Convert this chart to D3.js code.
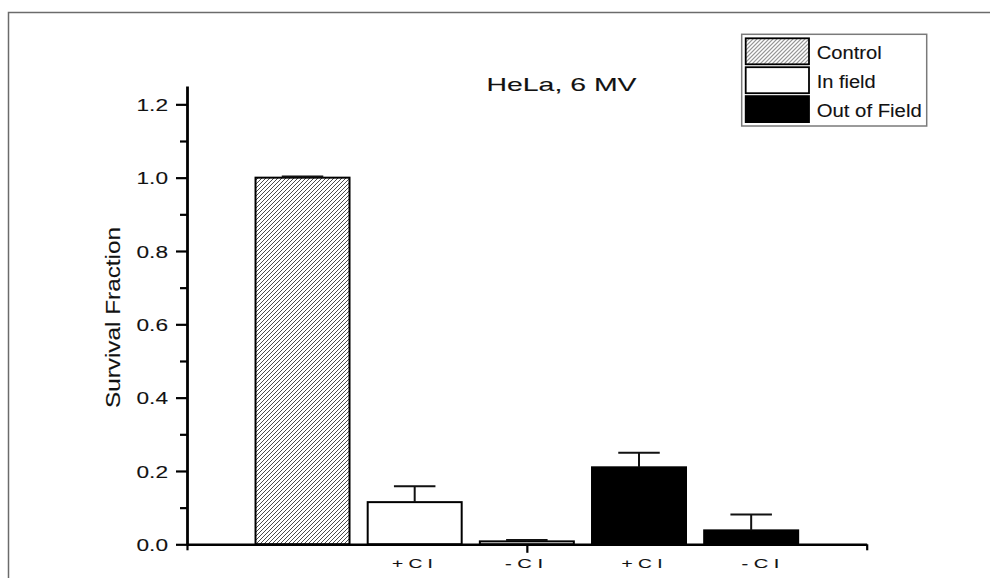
<!DOCTYPE html>
<html>
<head>
<meta charset="utf-8">
<script src="https://cdn.jsdelivr.net/npm/d3@7"></script>
<style>
  html, body { margin: 0; padding: 0; background: #fff; }
  svg { display: block; font-family: "Liberation Sans", Arial, sans-serif; }
  svg text { stroke: #222; stroke-width: 0.12px; }
</style>
</head>
<body>
<svg id="chart" width="990" height="578"></svg>
<script>
// Data
const groups = ["Control", "In field", "In field", "Out of Field", "Out of Field"]
const barLabels = ["", "+ C I", "- C I", "+ C I", "- C I"]
const values = [1.0, 0.115, 0.008, 0.21, 0.038]
const errors = [0.003, 0.043, 0.004, 0.04, 0.043]
const labelPos = [null, 1.98, 2.975, 4.027, 5.083]
const legendNames = ["Control", "In field", "Out of Field"]
const yMajor = [0, 0.2, 0.4, 0.6, 0.8, 1.0, 1.2]
const yMinor = [0.1, 0.3, 0.5, 0.7, 0.9, 1.1]

const svg = d3.select("#chart")

// hatch for control bars
const defs = svg.append("defs")
defs.append("pattern")
    .attr("id", "hatch")
    .attr("patternUnits", "userSpaceOnUse")
    .attr("width", 4).attr("height", 4)
  .append("path")
    .attr("d", "M-1,1 l2,-2 M0,4 l4,-4 M3,5 l2,-2")
    .attr("stroke", "#2a2a2a")
    .attr("stroke-width", 0.85)

const fillOf = {"Control": "url(#hatch)", "In field": "#fff", "Out of Field": "#000"}

// outer frame
svg.append("rect")
  .attr("x", 8.5).attr("y", 12.5)
  .attr("width", 1000).attr("height", 620)
  .attr("fill", "none")
  .attr("stroke", "#6b6b6b")
  .attr("stroke-width", 1.5)

let x = d3.scaleLinear().domain([-0.03, 6.03]).range([187, 866.7])
let y = d3.scaleLinear().domain([0, 1.25]).range([544.3, 86])
let barW = 0.838

// bars
let bars = svg.append("g")
bars.selectAll("rect")
  .data(values)
  .enter()
    .append("rect")
    .attr("x", (d, i) => x(i + 1 - barW / 2))
    .attr("y", d => y(d))
    .attr("width", x(barW) - x(0))
    .attr("height", d => y(0) - y(d))
    .attr("fill", (d, i) => fillOf[groups[i]])
    .attr("stroke", "#000")
    .attr("stroke-width", 2)

// error bars (upper only)
let capW = 0.37
let err = svg.append("g").attr("stroke", "#111").attr("stroke-width", 2)
values.forEach(function(v, i) {
  err.append("line")
    .attr("x1", x(i + 1)).attr("x2", x(i + 1))
    .attr("y1", y(v)).attr("y2", y(v + errors[i]))
  err.append("line")
    .attr("x1", x(i + 1 - capW / 2)).attr("x2", x(i + 1 + capW / 2))
    .attr("y1", y(v + errors[i])).attr("y2", y(v + errors[i]))
})

// y axis
let yAxis = svg.append("g")
  .attr("transform", "translate(" + x.range()[0] + ",0)")
  .call(d3.axisLeft(y).tickValues(yMajor).tickSize(11).tickSizeOuter(0).tickPadding(8)
        .tickFormat(d3.format(".1f")))
yAxis.select(".domain").attr("stroke-width", 2.8)
yAxis.selectAll(".tick line").attr("stroke-width", 2.2)
yAxis.selectAll("text")
  .attr("font-size", 17.2)
  .attr("fill", "#111")
  .attr("dy", "0.36em")
  .attr("textLength", 31.5)
  .attr("lengthAdjust", "spacingAndGlyphs")
  .attr("font-family", "Liberation Sans, Arial, sans-serif")

let yMinorAxis = svg.append("g")
  .attr("transform", "translate(" + x.range()[0] + ",0)")
  .call(d3.axisLeft(y).tickValues(yMinor).tickSize(7).tickSizeOuter(0).tickFormat(""))
yMinorAxis.select(".domain").remove()
yMinorAxis.selectAll(".tick line").attr("stroke-width", 2.2)

// x axis
let xAxis = svg.append("g")
  .attr("transform", "translate(0," + y(0) + ")")
  .call(d3.axisBottom(x).tickValues([3]).tickSize(8.5).tickSizeOuter(0).tickFormat(""))
xAxis.select(".domain").attr("stroke-width", 2.6)
xAxis.selectAll(".tick line").attr("stroke-width", 2.2)

let xEnds = svg.append("g")
  .attr("transform", "translate(0," + y(0) + ")")
  .call(d3.axisBottom(x).tickValues(x.domain()).tickSize(6).tickSizeOuter(0).tickFormat(""))
xEnds.select(".domain").remove()
xEnds.selectAll(".tick line").attr("stroke-width", 2.2)

// bar labels
svg.append("g")
  .selectAll("text")
  .data(barLabels.map((t, i) => ({t: t, p: labelPos[i]})).filter(d => d.t))
  .enter()
    .append("text")
    .attr("x", d => x(d.p))
    .attr("y", 567.7)
    .attr("text-anchor", "middle")
    .attr("font-size", 13.5)
    .attr("fill", "#111")
    .attr("textLength", d => d.t[0] == "+" ? 41 : 38)
    .attr("lengthAdjust", "spacingAndGlyphs")
    .text(d => d.t)

// axis title
svg.append("text")
  .attr("transform", "translate(120,317.5) rotate(-90)")
  .attr("text-anchor", "middle")
  .attr("font-size", 21)
  .attr("fill", "#111")
  .attr("textLength", 181)
  .attr("lengthAdjust", "spacingAndGlyphs")
  .text("Survival Fraction")

// chart title
svg.append("text")
  .attr("x", 561.5).attr("y", 90.7)
  .attr("text-anchor", "middle")
  .attr("font-size", 19)
  .attr("fill", "#111")
  .attr("textLength", 150)
  .attr("lengthAdjust", "spacingAndGlyphs")
  .text("HeLa, 6 MV")

// legend
let legend = svg.append("g")
legend.append("rect")
  .attr("x", 741.7).attr("y", 34.3)
  .attr("width", 185).attr("height", 91.7)
  .attr("fill", "#fff")
  .attr("stroke", "#7a7a7a")
  .attr("stroke-width", 1.5)
let legW = [65, 59, 105]
let rows = legend.selectAll("g.row")
  .data(legendNames)
  .enter()
    .append("g")
    .attr("class", "row")
    .attr("transform", (d, i) => "translate(745.7," + (38.3 + i * 28.9) + ")")
rows.append("rect")
  .attr("width", 63.3).attr("height", 26)
  .attr("fill", d => fillOf[d])
  .attr("stroke", "#000")
  .attr("stroke-width", 1.8)
rows.append("text")
  .attr("x", 71).attr("y", 21)
  .attr("font-size", 18)
  .attr("fill", "#111")
  .attr("textLength", (d, i) => legW[i])
  .attr("lengthAdjust", "spacingAndGlyphs")
  .text(d => d)
</script>
</body>
</html>
